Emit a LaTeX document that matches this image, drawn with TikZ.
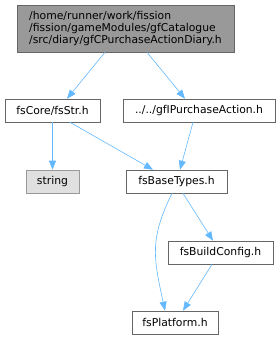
\documentclass[tikz,border=0pt]{standalone}
\usepackage{fontspec}
\setmainfont{DejaVu Sans}
\usetikzlibrary{arrows.meta, positioning}
\definecolor{edgeblue}{HTML}{63B8FF}
\definecolor{boxline}{HTML}{666666}
\definecolor{mainfill}{HTML}{999999}
\definecolor{sysfill}{HTML}{E0E0E0}
\definecolor{sysline}{HTML}{999999}
\tikzset{
    % Plain header file - white box
    header box/.style={rectangle, draw=boxline, fill=white, semithick, minimum height=23pt,
        inner sep=2pt, font=\fontsize{10.8}{12}\selectfont},
    % File of the graph itself - gray box
    main box/.style={header box, fill=mainfill, align=left, minimum height=47pt},
    % System header - light gray box
    system box/.style={header box, draw=sysline, fill=sysfill},
    % Include relation - blue arrow
    include/.style={edgeblue, semithick, -{Triangle[length=9pt, width=7pt]}}
}
\begin{document}
\begin{tikzpicture}[x=1pt, y=-1pt]
    \useasboundingbox (0,0) rectangle (280,340);

    % --- Files ---
    \node[main box, minimum width=217pt] (diary) at (125.5,28.5)
        {/home/runner/work/fission\\/fission/gameModules/gfCatalogue\\/src/diary/gfCPurchaseActionDiary.h};
    \node[header box, minimum width=95pt] (fsStr) at (52.5,110.5) {fsCore/fsStr.h};
    \node[header box, minimum width=152pt] (purchase) at (199,110.5) {../../gfIPurchaseAction.h};
    \node[system box, minimum width=53pt] (string) at (52.5,181.5) {string};
    \node[header box, minimum width=101pt] (baseTypes) at (176.5,181.5) {fsBaseTypes.h};
    \node[header box, minimum width=105pt] (buildConfig) at (220.5,252.5) {fsBuildConfig.h};
    \node[header box, minimum width=86pt] (platform) at (175,322.5) {fsPlatform.h};

    % --- Includes ---
    \draw[include] ([xshift=-20.5pt]diary.south) -- ([xshift=14.5pt]fsStr.north);
    \draw[include] ([xshift=21.5pt]diary.south) -- ([xshift=-14pt]purchase.north);
    \draw[include] (fsStr.south) -- (string.north);
    \draw[include] ([xshift=17.5pt]fsStr.south) -- ([xshift=-23.5pt]baseTypes.north);
    \draw[include] ([xshift=-6pt]purchase.south) -- ([xshift=3.5pt]baseTypes.north);
    \draw[include] ([xshift=-4.5pt]baseTypes.south) .. controls +(-22,45) and +(-12,-55) .. ([xshift=-10pt]platform.north);
    \draw[include] ([xshift=6.5pt]baseTypes.south) -- ([xshift=-7.5pt]buildConfig.north);
    \draw[include] ([xshift=-8.5pt]buildConfig.south) -- ([xshift=8pt]platform.north);

\end{tikzpicture}
\end{document}
